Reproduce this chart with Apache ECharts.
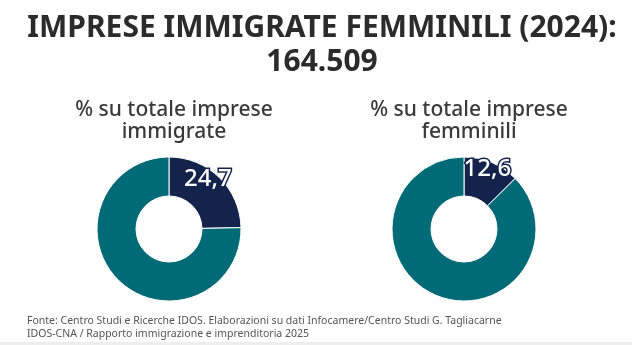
<!DOCTYPE html>
<html>
<head>
<meta charset="utf-8">
<script src="https://cdn.jsdelivr.net/npm/echarts@6/dist/echarts.min.js"></script>
<style>
  html, body { margin: 0; padding: 0; background: #ffffff; }
  #chart { width: 632px; height: 345px; }
</style>
</head>
<body>
<div id="chart"></div>
<script>
// Share of female immigrant-owned businesses, 2024
const headline = ['IMPRESE IMMIGRATE FEMMINILI (2024):', '164.509'];
const panelTitles = ['% su totale imprese\nimmigrate', '% su totale imprese\nfemminili'];
const shareValues = [24.7, 12.6];   // percent, highlighted slice
const sliceNames = ['Imprese immigrate femminili', 'Altre'];
const sourceLines = [
  'Fonte: Centro Studi e Ricerche IDOS. Elaborazioni su dati Infocamere/Centro Studi G. Tagliacarne',
  'IDOS-CNA / Rapporto immigrazione e imprenditoria 2025'
];

const NAVY = '#13234b';
const TEAL = '#006b77';
const FONT = '"Noto Sans", "Open Sans", sans-serif';

const fmt = v => v.toFixed(1).replace('.', ',');

const centers = [['169', '229'], ['464', '229']];
const labelOffsets = [[0, -10], [2, -9]];

const chart = echarts.init(document.getElementById('chart'), null, { renderer: 'canvas' });

const series = shareValues.map((v, i) => ({
  type: 'pie',
  center: centers[i],
  radius: [33, 72],
  startAngle: 90,
  clockwise: true,
  silent: true,
  avoidLabelOverlap: false,
  itemStyle: { borderColor: '#ffffff', borderWidth: 1 },
  label: { show: false },
  labelLine: { show: false },
  data: [
    {
      name: sliceNames[0], value: v,
      itemStyle: { color: NAVY },
      label: {
        show: true,
        position: 'inside',
        formatter: () => fmt(v),
        color: '#ffffff',
        fontFamily: FONT,
        fontSize: 24,
        fontWeight: 500,
        textBorderColor: NAVY,
        textBorderWidth: 3,
        offset: labelOffsets[i]
      }
    },
    {
      name: sliceNames[1], value: +(100 - v).toFixed(1),
      itemStyle: { color: TEAL }
    }
  ]
}));

const panelTitleStyle = { fontFamily: FONT, fontSize: 21, fontWeight: 500, color: '#3a3a3a', lineHeight: 22, align: 'center' };

chart.setOption({
  backgroundColor: '#ffffff',
  animation: false,
  title: [
    {
      text: headline.join('\n'),
      left: 317, top: 6,
      textAlign: 'center',
      textStyle: { fontFamily: FONT, fontSize: 30, fontWeight: 'bold', color: '#2b2b2b', lineHeight: 34, align: 'center' }
    },
    { text: panelTitles[0], left: 169, top: 94, textAlign: 'center', textStyle: panelTitleStyle },
    { text: panelTitles[1], left: 464, top: 94, textAlign: 'center', textStyle: panelTitleStyle },
    {
      text: sourceLines.join('\n'),
      left: 22, top: 310,
      textStyle: { fontFamily: FONT, fontSize: 10.5, fontWeight: 'normal', color: '#555555', lineHeight: 13 }
    }
  ],
  graphic: [
    { type: 'rect', left: 0, top: 342, shape: { width: 632, height: 3 }, style: { fill: '#eeeeee' }, silent: true }
  ],
  series: series
});
</script>
</body>
</html>
